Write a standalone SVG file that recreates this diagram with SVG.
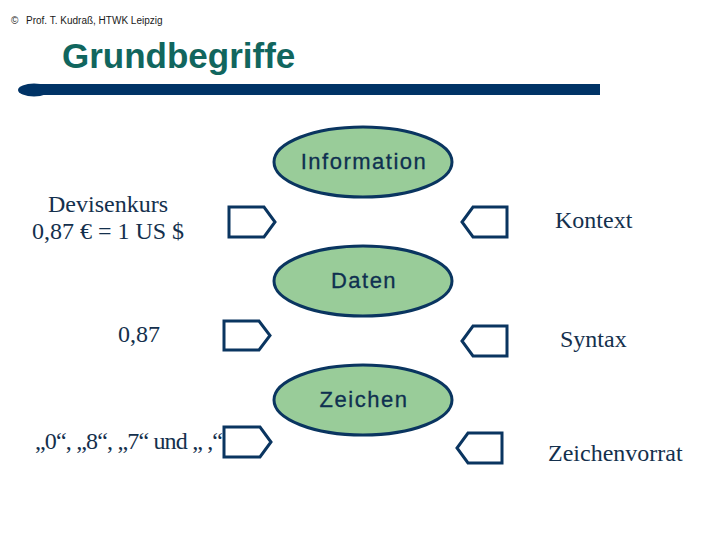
<svg xmlns="http://www.w3.org/2000/svg" width="720" height="540" viewBox="0 0 720 540">
<style>
.lbl{font-family:"Liberation Serif","Times New Roman",serif;font-size:24px;fill:#14304d}
.nl{font-family:"Liberation Sans",Arial,sans-serif;font-size:22px;letter-spacing:1.5px;fill:#0f3050;stroke:#0f3050;stroke-width:0.3;text-anchor:middle}
.ell{fill:#99cc99;stroke:#0a3560;stroke-width:3}
.tag{fill:#ffffff;stroke:#0a3560;stroke-width:3;stroke-linejoin:miter}
</style>
<rect width="720" height="540" fill="#ffffff"/>
<g id="header">
<text x="11" y="24" font-family="Liberation Sans,Arial,sans-serif" font-size="10" fill="#1a1a1a">©</text>
<text x="26" y="24" font-family="Liberation Sans,Arial,sans-serif" font-size="10" fill="#1a1a1a">Prof. T. Kudraß, HTWK Leipzig</text>
<text x="62" y="68" font-family="Liberation Sans,Arial,sans-serif" font-size="35" font-weight="bold" fill="#11665e">Grundbegriffe</text>
<rect x="30" y="84" width="570" height="11" fill="#003366"/>
<ellipse cx="34" cy="90" rx="16" ry="6.5" fill="#003366"/>
</g>
<g id="connectors">
<path class="tag" d="M229,207 H264 L275,222 L264,237 H229 Z"/>
<path class="tag" d="M507,207 H473 L462,222 L473,237 H507 Z"/>
<path class="tag" d="M224,321 H259 L270,335.5 L259,350 H224 Z"/>
<path class="tag" d="M507,326 H473 L462,341 L473,356 H507 Z"/>
<path class="tag" d="M224,427 H260 L271,442 L260,457 H224 Z"/>
<path class="tag" d="M502,433 H468 L457,448 L468,463 H502 Z"/>
</g>
<g id="information">
<ellipse class="ell" cx="363" cy="162" rx="89" ry="35"/>
<text class="nl" x="364" y="169">Information</text>
</g>
<g id="daten">
<ellipse class="ell" cx="363" cy="281" rx="89" ry="35"/>
<text class="nl" x="364" y="288">Daten</text>
</g>
<g id="zeichen">
<ellipse class="ell" cx="363" cy="400" rx="89" ry="35"/>
<text class="nl" x="364" y="407">Zeichen</text>
</g>
<g id="labels">
<text class="lbl" x="108" y="212" text-anchor="middle">Devisenkurs</text>
<text class="lbl" x="108" y="239" text-anchor="middle">0,87 € = 1 US $</text>
<text class="lbl" x="555" y="228">Kontext</text>
<text class="lbl" x="118" y="342">0,87</text>
<text class="lbl" x="560" y="347">Syntax</text>
<text class="lbl" x="35" y="449" textLength="188" lengthAdjust="spacing">„0“, „8“, „7“ und „ ,“</text>
<text class="lbl" x="548" y="461">Zeichenvorrat</text>
</g>
</svg>
